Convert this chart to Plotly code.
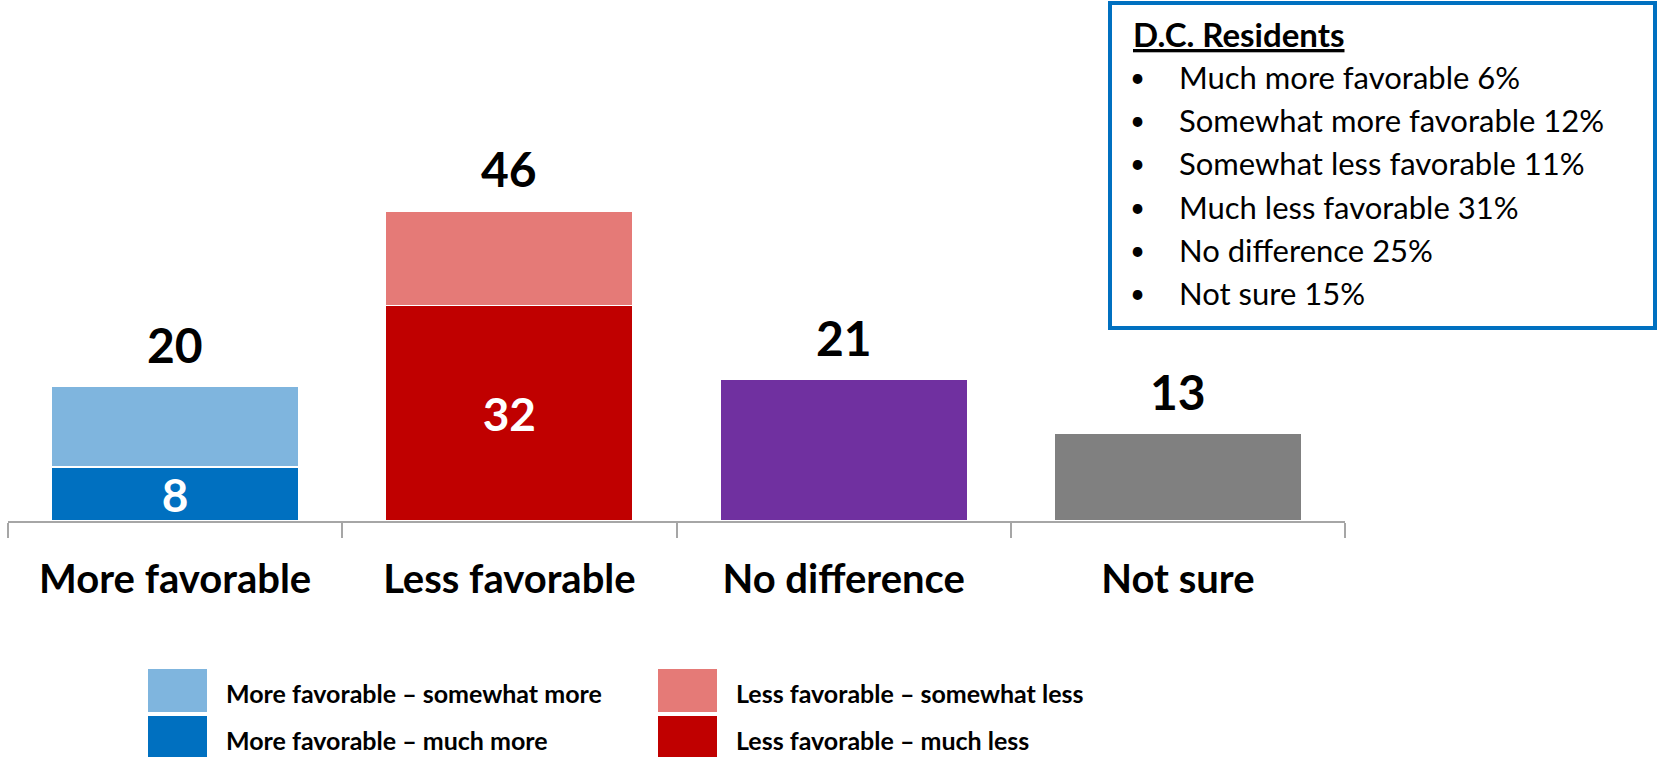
import plotly.graph_objects as go

# ---- data -------------------------------------------------------------
categories = ["More favorable", "Less favorable", "No difference", "Not sure"]
totals = [20, 46, 21, 13]

segment_names = [
    "More favorable – much more",
    "More favorable – somewhat more",
    "Less favorable – much less",
    "Less favorable – somewhat less",
    "No difference",
    "Not sure",
]
segment_category = ["More favorable", "More favorable", "Less favorable",
                    "Less favorable", "No difference", "Not sure"]
segment_values = [8, 12, 32, 14, 21, 13]
segment_labels = ["8", "", "32", "", "", ""]
segment_colors = ["#0070C0", "#7FB5DE", "#C00000", "#E57A77", "#7030A0", "#808080"]

# legend entries: (name, color) laid out as rows of two
legend_rows = [
    [("More favorable – somewhat more", "#7FB5DE"), ("Less favorable – somewhat less", "#E57A77")],
    [("More favorable – much more", "#0070C0"), ("Less favorable – much less", "#C00000")],
]

dc_title = "D.C. Residents"
dc_items = [
    "Much more favorable 6%",
    "Somewhat more favorable 12%",
    "Somewhat less favorable 11%",
    "Much less favorable 31%",
    "No difference 25%",
    "Not sure 15%",
]

# ---- geometry (pixels) ------------------------------------------------
W, H = 1658, 757
L, R, T, B = 8, 313, 184, 236
PW, PH = W - L - R, H - T - B


def px(x):
    return (x - L) / PW


def py(y):
    return (T + PH - y) / PH


FONT = "Lato, 'Open Sans', Arial, sans-serif"

fig = go.Figure()
for name, cat, val, lab, col in zip(segment_names, segment_category,
                                    segment_values, segment_labels, segment_colors):
    fig.add_trace(go.Bar(
        x=[cat], y=[val], name=name,
        marker=dict(color=col, line=dict(color="white", width=1.5)),
        text=[lab], textposition="inside", insidetextanchor="middle",
        constraintext="none", textangle=0,
        textfont=dict(family=FONT, size=46, color="white", weight="bold"),
        showlegend=False, hoverinfo="skip",
    ))

annotations = []
for cat, tot in zip(categories, totals):
    annotations.append(dict(
        x=cat, y=tot, xref="x", yref="y", text=f"<b>{tot}</b>",
        showarrow=False, yanchor="middle", yshift=42,
        font=dict(family=FONT, size=48, color="black"),
    ))

# D.C. Residents box
shapes = [dict(type="rect", xref="paper", yref="paper",
               x0=px(1110), x1=px(1655), y0=py(328), y1=py(3),
               line=dict(color="#0070C0", width=4), fillcolor="white")]
annotations.append(dict(
    x=px(1131), y=py(34), xref="paper", yref="paper", xanchor="left", yanchor="middle",
    text=f"<b><u>{dc_title}</u></b>", showarrow=False,
    font=dict(family=FONT, size=33, color="black"),
))
for i, item in enumerate(dc_items):
    yc = 77 + i * 43.2
    annotations.append(dict(
        x=px(1137), y=py(yc), xref="paper", yref="paper", xanchor="center", yanchor="middle",
        text="•", showarrow=False, font=dict(family=FONT, size=26, color="black"),
    ))
    annotations.append(dict(
        x=px(1177), y=py(yc), xref="paper", yref="paper", xanchor="left", yanchor="middle",
        text=item, showarrow=False, font=dict(family=FONT, size=31, color="black"),
    ))

# manual legend with large swatches
for r, row in enumerate(legend_rows):
    top = 669 + r * 47
    for c, (name, col) in enumerate(row):
        x0 = 148 + c * 510
        shapes.append(dict(type="rect", xref="paper", yref="paper",
                           x0=px(x0), x1=px(x0 + 59), y0=py(top + 43), y1=py(top),
                           line=dict(width=0), fillcolor=col))
        annotations.append(dict(
            x=px(x0 + 76), y=py(top + 24), xref="paper", yref="paper",
            xanchor="left", yanchor="middle", text=f"<b>{name}</b>", showarrow=False,
            font=dict(family=FONT, size=25, color="black"),
        ))

fig.update_layout(
    width=W, height=H,
    margin=dict(l=L, r=R, t=T, b=B, autoexpand=False),
    barmode="stack", bargap=0.26,
    plot_bgcolor="white", paper_bgcolor="white",
    showlegend=False,
    xaxis=dict(
        categoryorder="array", categoryarray=categories,
        showline=True, linecolor="#A6A6A6", linewidth=2,
        ticks="outside", tickson="boundaries", ticklen=15, tickwidth=2, tickcolor="#A6A6A6",
        tickfont=dict(family=FONT, size=40, color="black", weight="bold"),
        ticklabelstandoff=22, showgrid=False, fixedrange=True,
    ),
    yaxis=dict(range=[0, 50], visible=False, showgrid=False, fixedrange=True),
    shapes=shapes,
    annotations=annotations,
)

# drop the default 8px body margin so the figure fills the window exactly
fig.write_html(
    "out.html",
    config={"displayModeBar": False},
    post_script="document.body.style.margin='0';document.body.style.overflow='hidden';",
)
